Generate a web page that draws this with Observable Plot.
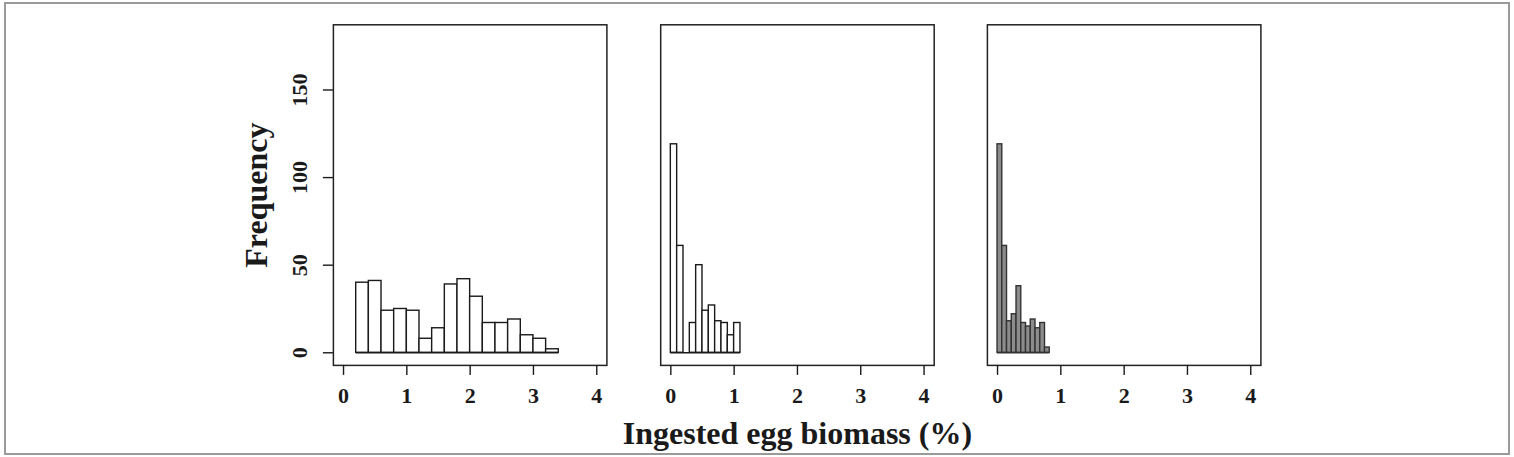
<!DOCTYPE html>
<html><head><meta charset="utf-8">
<script src="https://cdn.jsdelivr.net/npm/d3@7"></script>
<script src="https://cdn.jsdelivr.net/npm/@observablehq/plot@0.6"></script>
<style>
html,body{margin:0;padding:0;background:#fff;}
#fig{position:relative;width:1514px;height:457px;overflow:hidden;background:#fff;}
#border{position:absolute;left:4px;top:2px;width:1502px;height:449px;border:2px solid #9a9a9a;}
.panel{position:absolute;top:0;}
</style></head><body>
<div id="fig"><div id="border"></div></div>
<script>
// ---- data ----
const xTicks = [0, 1, 2, 3, 4];
const yTicks = [0, 50, 100, 150];
const yTitle = "Frequency";
const xTitle = "Ingested egg biomass (%)";

const panel1Edges = [0.2, 0.4, 0.6, 0.8, 1.0, 1.2, 1.4, 1.6, 1.8, 2.0, 2.2, 2.4, 2.6, 2.8, 3.0, 3.2, 3.4];
const panel1Counts = [40, 41, 24, 25, 24, 8, 14, 39, 42, 32, 17, 17, 19, 10, 8, 2];

const panel2Edges = [0, 0.1, 0.2, 0.3, 0.4, 0.5, 0.6, 0.7, 0.8, 0.9, 1.0, 1.1];
const panel2Counts = [119, 61, 0, 17, 50, 24, 27, 18, 17, 10, 17];

const panel3Edges = [0, 0.075, 0.15, 0.225, 0.3, 0.375, 0.45, 0.525, 0.6, 0.675, 0.75, 0.825];
const panel3Counts = [119, 61, 18, 22, 38, 17, 15, 19, 14, 17, 3];

// ---- drawing ----
const font = "'Liberation Serif', 'Times New Roman', 'DejaVu Serif', serif";
const H = 457, MT = 24.3, MB = 92.1;

function rowsOf(edges, counts) {
  return counts.map((c, i) => ({x1: edges[i], x2: edges[i + 1], count: c}));
}

function panel({edges, counts, fill, stroke, left, width, marginLeft, marginRight, yAxis = false, extra = []}) {
  const svg = Plot.plot({
    width, height: H, marginLeft, marginRight, marginTop: MT, marginBottom: MB,
    x: {domain: [-0.16, 4.16], label: null},
    y: {domain: [-7.2, 187.2], label: null, axis: yAxis ? undefined : null},
    style: {fontFamily: font, fontSize: "22px", fontWeight: "bold", color: "#1a1a1a", background: "transparent", overflow: "visible"},
    marks: [
      Plot.ruleY([0], {x1: () => edges[0], x2: () => edges[edges.length - 1], stroke, strokeWidth: 1.4}),
      Plot.rect(rowsOf(edges, counts), {x1: "x1", x2: "x2", y1: () => 0, y2: "count", fill, stroke, strokeWidth: 1.4}),
      Plot.frame({stroke: "#222", strokeWidth: 1.5}),
      Plot.axisX({ticks: xTicks, tickSize: 10, tickPadding: 12, label: null, tickFormat: d => String(d), strokeWidth: 1.4}),
      ...extra
    ]
  });
  const div = document.createElement("div");
  div.className = "panel";
  div.style.left = left + "px";
  div.appendChild(svg);
  document.getElementById("fig").appendChild(div);
}

panel({
  edges: panel1Edges, counts: panel1Counts, fill: "white", stroke: "#1a1a1a",
  left: 200, width: 430, marginLeft: 132.9, marginRight: 23.6, yAxis: true,
  extra: [
    Plot.axisY({ticks: yTicks, tickSize: 10, tickFormat: () => "", label: null, strokeWidth: 1.4}),
    Plot.text(yTicks, {y: d => d, text: d => String(d), frameAnchor: "left", dx: -33, rotate: -90, textAnchor: "middle", lineAnchor: "middle", fontSize: 22}),
    Plot.text([yTitle], {y: () => 90, text: d => d, frameAnchor: "left", dx: -77, rotate: -90, textAnchor: "middle", lineAnchor: "middle", fontSize: 32})
  ]
});

panel({
  edges: panel2Edges, counts: panel2Counts, fill: "white", stroke: "#1a1a1a",
  left: 600, width: 400, marginLeft: 60.2, marginRight: 66.3,
  extra: [
    Plot.text([xTitle], {x: () => 2, text: d => d, frameAnchor: "bottom", dy: 68, textAnchor: "middle", lineAnchor: "middle", fontSize: 32})
  ]
});

panel({
  edges: panel3Edges, counts: panel3Counts, fill: "#8c8c8c", stroke: "#333",
  left: 965, width: 320, marginLeft: 21.9, marginRight: 24.6
});
</script>
</body></html>
